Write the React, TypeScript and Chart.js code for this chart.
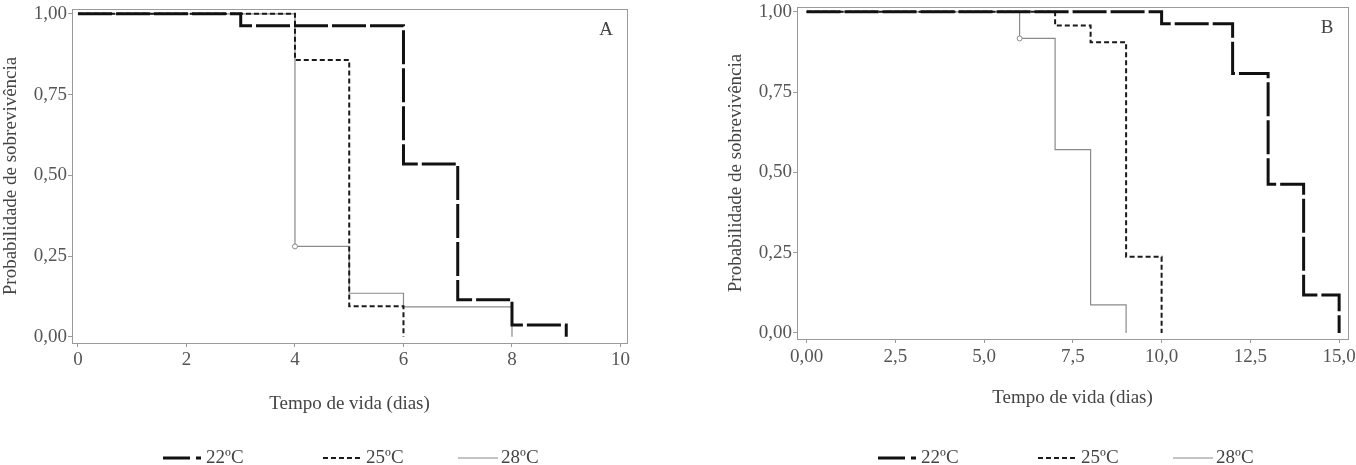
import React, { useEffect, useRef } from 'react';
import { Chart, registerables } from 'chart.js';

Chart.register(...registerables);

// ---------- data ----------
const seriesLabels = ['22ºC', '25ºC', '28ºC'];

const yTicks = [0, 0.25, 0.5, 0.75, 1];
const yTickLabels = ['0,00', '0,25', '0,50', '0,75', '1,00'];

// Panel A
const xTicksA = [0, 2, 4, 6, 8, 10];
const xTickLabelsA = ['0', '2', '4', '6', '8', '10'];
const timesA22 = [0, 3, 6, 7, 8, 9];
const survA22 = [1, 0.963, 0.535, 0.115, 0.037, 0];
const timesA25 = [0, 4, 5, 6];
const survA25 = [1, 0.857, 0.095, 0];
const timesA28 = [0, 4, 5, 6, 8];
const survA28 = [1, 0.28, 0.135, 0.093, 0];
const censorA28 = [0, 1, 0, 0, 0];

// Panel B
const xTicksB = [0, 2.5, 5, 7.5, 10, 12.5, 15];
const xTickLabelsB = ['0,00', '2,5', '5,0', '7,5', '10,0', '12,5', '15,0'];
const timesB22 = [0, 10, 12, 13, 14, 15];
const survB22 = [1, 0.963, 0.808, 0.463, 0.118, 0];
const timesB25 = [0, 7, 8, 9, 10];
const survB25 = [1, 0.957, 0.905, 0.237, 0];
const timesB28 = [0, 6, 7, 8, 9];
const survB28 = [1, 0.917, 0.571, 0.087, 0];
const censorB28 = [0, 1, 0, 0, 0];

// ---------- styles ----------
const FONT = "'Liberation Serif', 'Times New Roman', serif";
const TICK_COLOR = '#555';
const TITLE_COLOR = '#444';
const AXIS_COLOR = '#9a9a9a';

const lineStyles = [
  { color: '#111', width: 3, dash: [34, 4], legendDash: [27, 6, 5, 60] },
  { color: '#1a1a1a', width: 2, dash: [5, 3], legendDash: [5, 3] },
  { color: '#8a8a8a', width: 1.2, dash: [] as number[], legendDash: [] as number[] },
];

type PanelSpec = {
  letter: string;
  xMin: number;
  xMax: number;
  xTicks: number[];
  xTickLabels: string[];
  series: { t: number[]; s: number[]; censor?: number[] }[];
  padTop: number;
  padRight: number;
  yAxisWidth: number;
  yTitlePad: number;
  xAxisHeight: number;
  xTitlePadBottom: number;
  xTickPad: number;
  legendX: number[];
  legendY: number;
};

const panelA: PanelSpec = {
  letter: 'A',
  xMin: -0.11,
  xMax: 10.12,
  xTicks: xTicksA,
  xTickLabels: xTickLabelsA,
  series: [
    { t: timesA22, s: survA22 },
    { t: timesA25, s: survA25 },
    { t: timesA28, s: survA28, censor: censorA28 },
  ],
  padTop: 9,
  padRight: 33,
  yAxisWidth: 72,
  yTitlePad: 0,
  xAxisHeight: 122,
  xTitlePadBottom: 50,
  xTickPad: 2,
  legendX: [163, 323, 458],
  legendY: 458,
};

const panelB: PanelSpec = {
  letter: 'B',
  xMin: -0.27,
  xMax: 15.25,
  xTicks: xTicksB,
  xTickLabels: xTickLabelsB,
  series: [
    { t: timesB22, s: survB22 },
    { t: timesB25, s: survB25 },
    { t: timesB28, s: survB28, censor: censorB28 },
  ],
  padTop: 7,
  padRight: 8,
  yAxisWidth: 97,
  yTitlePad: 25,
  xAxisHeight: 126,
  xTitlePadBottom: 56,
  xTickPad: 3,
  legendX: [178, 338, 473],
  legendY: 458,
};

function buildConfig(spec: PanelSpec): any {
  const datasets = spec.series.map((ser, i) => {
    const st = lineStyles[i];
    const censor = ser.censor || [];
    return {
      label: seriesLabels[i],
      data: ser.t.map((x, k) => ({ x, y: ser.s[k] })),
      stepped: true,
      borderColor: st.color,
      borderWidth: st.width,
      borderDash: st.dash,
      borderCapStyle: 'butt',
      fill: false,
      tension: 0,
      pointRadius: (ctx: any) => (censor[ctx.dataIndex] ? 2.5 : 0),
      pointHoverRadius: 0,
      pointBackgroundColor: '#fff',
      pointBorderColor: st.color,
      pointBorderWidth: 1,
    };
  });

  const boxPlugin = {
    id: 'frameBox',
    beforeDatasetsDraw(chart: any) {
      const { ctx, chartArea } = chart;
      ctx.save();
      ctx.strokeStyle = AXIS_COLOR;
      ctx.lineWidth = 1;
      ctx.setLineDash([]);
      ctx.strokeRect(
        Math.round(chartArea.left) + 0.5,
        Math.round(chartArea.top) + 0.5,
        Math.round(chartArea.right - chartArea.left),
        Math.round(chartArea.bottom - chartArea.top)
      );
      ctx.restore();
    },
    afterDraw(chart: any) {
      const { ctx, chartArea } = chart;
      ctx.save();
      // panel letter
      ctx.font = `19px ${FONT}`;
      ctx.fillStyle = TITLE_COLOR;
      ctx.textAlign = 'center';
      ctx.textBaseline = 'middle';
      ctx.fillText(spec.letter, chartArea.right - 21, chartArea.top + 21);
      // legend
      seriesLabels.forEach((lab, i) => {
        const st = lineStyles[i];
        const x0 = spec.legendX[i];
        const y = spec.legendY;
        ctx.beginPath();
        ctx.setLineDash(st.legendDash);
        ctx.lineWidth = st.width;
        ctx.strokeStyle = st.color;
        ctx.lineCap = 'butt';
        ctx.moveTo(x0, y);
        ctx.lineTo(x0 + 40, y);
        ctx.stroke();
        ctx.setLineDash([]);
        ctx.fillStyle = TITLE_COLOR;
        ctx.textAlign = 'left';
        ctx.textBaseline = 'middle';
        ctx.fillText(lab, x0 + 43, y);
      });
      ctx.restore();
    },
  };

  return {
    type: 'line',
    data: { datasets },
    plugins: [boxPlugin],
    options: {
      animation: false,
      responsive: false,
      maintainAspectRatio: false,
      events: [],
      layout: { padding: { top: spec.padTop, right: spec.padRight, left: 0, bottom: 0 } },
      plugins: {
        legend: { display: false },
        tooltip: { enabled: false },
      },
      scales: {
        x: {
          type: 'linear',
          min: spec.xMin,
          max: spec.xMax,
          afterBuildTicks: (axis: any) => {
            axis.ticks = spec.xTicks.map((v) => ({ value: v }));
          },
          afterFit: (s: any) => {
            s.height = spec.xAxisHeight;
            s.paddingLeft = 0;
            s.paddingRight = 0;
          },
          grid: { display: true, drawOnChartArea: false, drawTicks: true, tickLength: 4, color: AXIS_COLOR },
          border: { display: true, color: AXIS_COLOR, width: 1 },
          ticks: {
            autoSkip: false,
            maxRotation: 0,
            padding: spec.xTickPad,
            color: TICK_COLOR,
            font: { family: FONT, size: 19 },
            callback: (_v: any, idx: number) => spec.xTickLabels[idx],
          },
          title: {
            display: true,
            text: 'Tempo de vida (dias)',
            color: TITLE_COLOR,
            font: { family: FONT, size: 19 },
            padding: { top: 0, bottom: spec.xTitlePadBottom },
          },
        },
        y: {
          type: 'linear',
          min: -0.019,
          max: 1.015,
          afterBuildTicks: (axis: any) => {
            axis.ticks = yTicks.map((v) => ({ value: v }));
          },
          afterFit: (s: any) => {
            s.width = spec.yAxisWidth;
            s.paddingTop = 0;
            s.paddingBottom = 0;
          },
          grid: { display: true, drawOnChartArea: false, drawTicks: true, tickLength: 4, color: AXIS_COLOR },
          border: { display: true, color: AXIS_COLOR, width: 1 },
          ticks: {
            autoSkip: false,
            padding: 1,
            color: TICK_COLOR,
            font: { family: FONT, size: 19 },
            callback: (_v: any, idx: number) => yTickLabels[idx],
          },
          title: {
            display: true,
            text: 'Probabilidade de sobrevivência',
            color: TITLE_COLOR,
            font: { family: FONT, size: 19 },
            padding: { top: spec.yTitlePad, bottom: 0 },
          },
        },
      },
    },
  };
}

function Panel({ spec, left, width }: { spec: PanelSpec; left: number; width: number }) {
  const ref = useRef<HTMLCanvasElement>(null);
  useEffect(() => {
    const chart = new Chart(ref.current as HTMLCanvasElement, buildConfig(spec));
    return () => chart.destroy();
  }, [spec]);
  return (
    <canvas
      ref={ref}
      width={width}
      height={465}
      style={{ position: 'absolute', left, top: 0, width, height: 465 }}
    />
  );
}

export default function App() {
  return (
    <div
      style={{
        position: 'fixed',
        left: 0,
        top: 0,
        width: 1356,
        height: 465,
        background: '#fff',
        overflow: 'hidden',
      }}
    >
      <Panel spec={panelA} left={0} width={660} />
      <Panel spec={panelB} left={700} width={656} />
    </div>
  );
}
